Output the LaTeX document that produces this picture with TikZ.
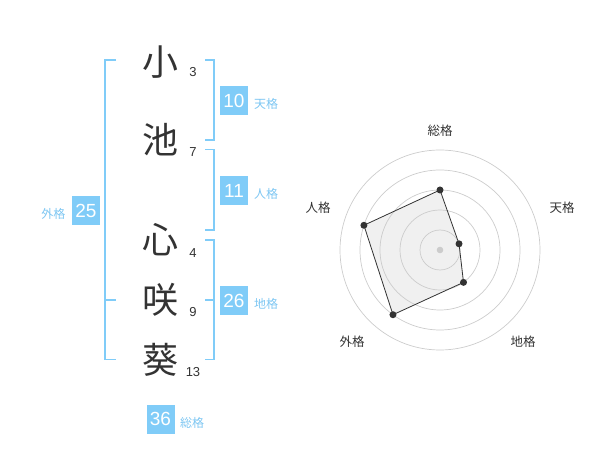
\documentclass[tikz,border=0pt]{standalone}
\usepackage{fontspec}
\setmainfont{Liberation Sans}
\newfontfamily\cjk{Noto Sans CJK JP}
\definecolor{skyb}{HTML}{80CCF8}
\definecolor{skyt}{HTML}{7DC6F2}
\definecolor{ink}{HTML}{333333}
\definecolor{ringc}{HTML}{CCCCCC}
\definecolor{polyfill}{HTML}{F0F0F0}
\begin{document}
\begin{tikzpicture}[x=1pt,y=-1pt,
  kanji/.style={font=\cjk\fontsize{36}{36}\selectfont, text=ink, inner sep=0pt},
  strokes/.style={font=\fontsize{13}{13}\selectfont, text=ink, inner sep=0pt},
  numbox/.style={fill=skyb, text=white, minimum width=28pt, minimum height=29pt, inner sep=0pt, font=\fontsize{19}{19}\selectfont},
  kaku/.style={text=skyt, font=\cjk\fontsize{12}{12}\selectfont, inner sep=0pt},
  brk/.style={draw=skyb, line width=1.3pt},
  axlabel/.style={text=ink, font=\cjk\fontsize{12.5}{12.5}\selectfont, inner sep=0pt},
  ring/.style={draw=ringc, line width=0.7pt},
  vdot/.style={circle, fill=ink, inner sep=0pt, minimum size=7pt}
]
\useasboundingbox (0,0) rectangle (600,470);

% characters
\node[kanji] (k1) at (160,62) {小};
\node[kanji] (k2) at (160,140) {池};
\node[kanji] (k3) at (160,240) {心};
\node[kanji] (k4) at (160,300) {咲};
\node[kanji] (k5) at (160,360) {葵};

% stroke counts
\node[strokes] (s1) at (193,72.5) {3};
\node[strokes] (s2) at (193,152.5) {7};
\node[strokes] (s3) at (193,253) {4};
\node[strokes] (s4) at (193,312.5) {9};
\node[strokes] (s5) at (193,372.5) {13};

% left bracket (外格)
\coordinate (la) at (116,60);
\coordinate (lb) at (105,60);
\coordinate (lc) at (105,359.5);
\coordinate (ld) at (116,359.5);
\coordinate (lm1) at (105,300);
\coordinate (lm2) at (116,300);
\draw[brk] (la) -- (lb) -- (lc) -- (ld);
\draw[brk] (lm1) -- (lm2);

% right bracket 天格
\coordinate (ta) at (205,60);
\coordinate (tb) at (214,60);
\coordinate (tc) at (214,140);
\coordinate (td) at (205,140);
\draw[brk] (ta) -- (tb) -- (tc) -- (td);
% right bracket 人格
\coordinate (ja) at (205,149.5);
\coordinate (jb) at (214,149.5);
\coordinate (jc) at (214,230);
\coordinate (jd) at (205,230);
\draw[brk] (ja) -- (jb) -- (jc) -- (jd);
% right bracket 地格
\coordinate (ca) at (205,240);
\coordinate (cb) at (214,240);
\coordinate (cc) at (214,359.5);
\coordinate (cd) at (205,359.5);
\coordinate (cm1) at (205,300);
\coordinate (cm2) at (214,300);
\draw[brk] (ca) -- (cb) -- (cc) -- (cd);
\draw[brk] (cm1) -- (cm2);

% boxes and labels
\node[numbox] (b10) at (234,100.5) {10};
\node[kaku, anchor=west] (t10) at (254,104) {天格};
\node[numbox] (b11) at (234,190.5) {11};
\node[kaku, anchor=west] (t11) at (254,193.5) {人格};
\node[numbox] (b26) at (234,300.5) {26};
\node[kaku, anchor=west] (t26) at (254,303.5) {地格};
\node[numbox] (b25) at (86,210.5) {25};
\node[kaku, anchor=east] (t25) at (65.5,213.5) {外格};
\node[numbox] (b36) at (160.5,419) {36};
\node[kaku, anchor=west] (t36) at (180,422.5) {総格};

% radar chart
\coordinate (c) at (440,250);
\coordinate (p1) at ([shift={(90:60pt)}]c);
\coordinate (p2) at ([shift={(18:20pt)}]c);
\coordinate (p3) at ([shift={(-54:40pt)}]c);
\coordinate (p4) at ([shift={(-126:80pt)}]c);
\coordinate (p5) at ([shift={(162:80pt)}]c);
\fill[polyfill] (p1) -- (p2) -- (p3) -- (p4) -- (p5) -- cycle;
\foreach \r in {20,40,60,80,100} {
  \draw[ring] (c) circle[radius=\r pt];
}
\fill[ringc] (c) circle[radius=3.3pt];
\draw[ink, line width=0.8pt, line join=round] (p1) -- (p2) -- (p3) -- (p4) -- (p5) -- cycle;
\foreach \p in {p1,p2,p3,p4,p5} {
  \node[vdot] at (\p) {};
}
\node[axlabel] (a1) at (440,130.5) {総格};
\node[axlabel] (a2) at (562,208) {天格};
\node[axlabel] (a3) at (523,342) {地格};
\node[axlabel] (a4) at (352,342) {外格};
\node[axlabel] (a5) at (318,208) {人格};
\end{tikzpicture}
\end{document}
